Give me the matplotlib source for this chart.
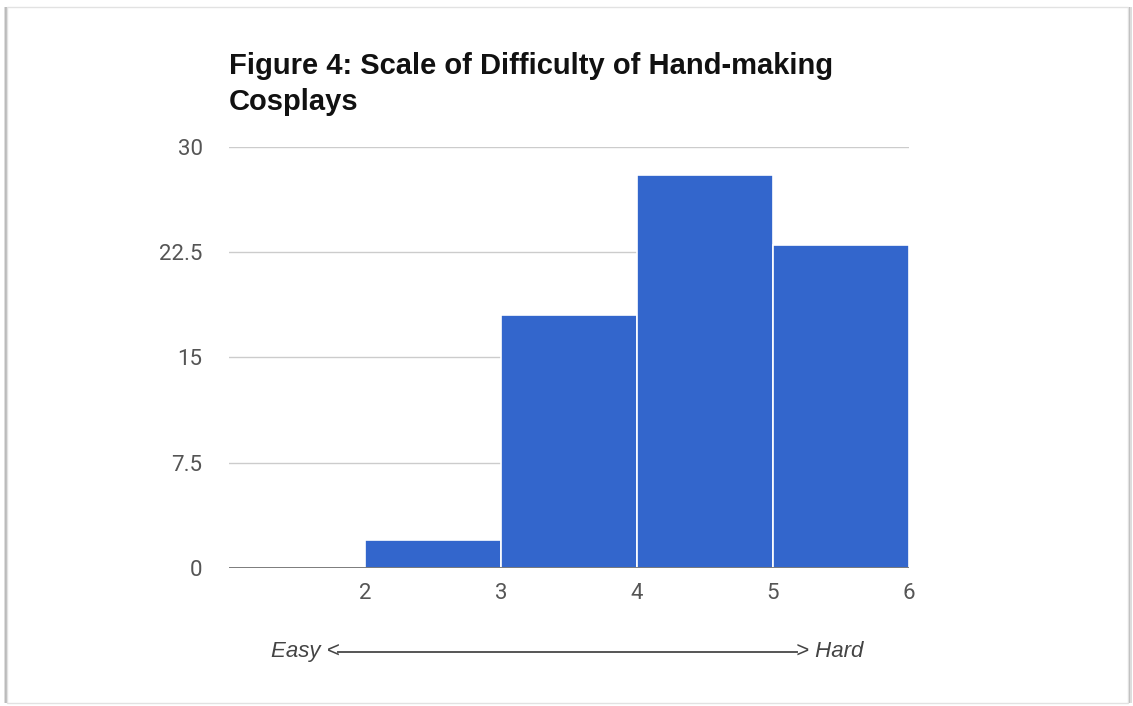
#!/usr/bin/env python3

import matplotlib.pyplot as plt
from matplotlib.lines import Line2D
from matplotlib.patches import Rectangle


# Histogram of difficulty ratings (bin left edges and counts)
BIN_EDGES = [1, 2, 3, 4, 5]
COUNTS = [0, 2, 18, 28, 23]

Y_TICKS = [0, 7.5, 15, 22.5, 30]
Y_TICK_LABELS = ["0", "7.5", "15", "22.5", "30"]
X_TICKS = [2, 3, 4, 5, 6]

TITLE = "Figure 4: Scale of Difficulty of Hand-making\nCosplays"

BAR_COLOR = "#3366cc"
GRID_COLOR = "#cccccc"
TICK_COLOR = "#555555"


def main() -> None:
    fig = plt.figure(figsize=(11.33, 7.06), dpi=100)
    fig.patch.set_facecolor("white")

    # Page frame with a soft shadow on the sides
    for x0, w, c in [(0.0035, 0.0035, "#dddddd"), (0.0045, 0.0015, "#bbbbbb"),
                     (0.9955, 0.0035, "#dddddd"), (0.9955, 0.0015, "#bbbbbb")]:
        fig.patches.append(Rectangle((x0, 0.004), w, 0.986,
                                     transform=fig.transFigure,
                                     facecolor=c, edgecolor="none"))
    fig.patches.append(Rectangle((0.006, 0.004), 0.9895, 0.986,
                                 transform=fig.transFigure, fill=False,
                                 edgecolor="#e2e2e2", linewidth=1))

    ax = fig.add_axes([0.2021, 0.1955, 0.6002, 0.5963])

    ax.bar(BIN_EDGES, COUNTS, width=1, align="edge", color=BAR_COLOR,
           edgecolor="white", linewidth=1.2, zorder=2)

    ax.set_xlim(1, 6)
    ax.set_ylim(0, 30)

    ax.set_yticks(Y_TICKS)
    ax.set_yticklabels(Y_TICK_LABELS)
    ax.set_xticks(X_TICKS)
    ax.set_xticklabels([str(t) for t in X_TICKS])

    for y in Y_TICKS[1:]:
        ax.axhline(y, color=GRID_COLOR, linewidth=1, zorder=1)
    ax.axhline(0, color="#666666", linewidth=1.2, zorder=3)

    for spine in ax.spines.values():
        spine.set_visible(False)

    ax.tick_params(axis="both", length=0, labelcolor=TICK_COLOR,
                   labelsize=16)
    ax.tick_params(axis="y", pad=19)
    ax.tick_params(axis="x", pad=11)
    for label in ax.get_xticklabels() + ax.get_yticklabels():
        label.set_fontfamily("Roboto")

    fig.text(0.2021, 0.844, TITLE, fontsize=21, fontweight="bold",
             family="Liberation Sans", color="#111111", ha="left",
             va="baseline", linespacing=1.37)

    # Difficulty direction label under the x axis
    label_y = -0.1995
    ax.text(0.162, label_y, "Easy <", transform=ax.transAxes, ha="right",
            va="center", fontsize=16, style="italic", color="#444444",
            family="Liberation Sans")
    ax.text(0.834, label_y, "> Hard", transform=ax.transAxes, ha="left",
            va="center", fontsize=16, style="italic", color="#444444",
            family="Liberation Sans")
    ax.add_line(Line2D([0.16, 0.836], [label_y, label_y],
                       transform=ax.transAxes, color="#555555",
                       linewidth=1.4, clip_on=False))

    fig.savefig("out.png", dpi=100, facecolor="white")
    plt.close(fig)


if __name__ == "__main__":
    main()
